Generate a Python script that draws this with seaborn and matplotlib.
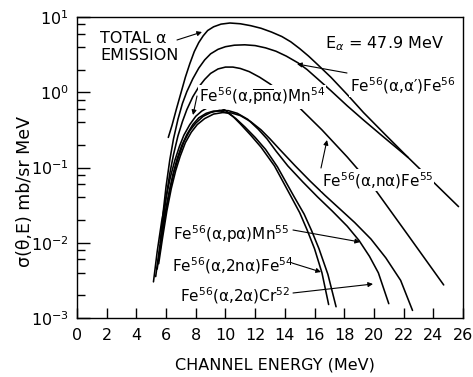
import numpy as np
import pandas as pd
import matplotlib
matplotlib.use("Agg")
import matplotlib.pyplot as plt
import seaborn as sns
from matplotlib.ticker import LogLocator, NullLocator, FixedLocator

sns.set_theme(style="ticks")
plt.rcParams["font.family"] = ["DejaVu Sans"]
plt.rcParams["mathtext.fontset"] = "dejavusans"
plt.rcParams["text.color"] = "black"
plt.rcParams["axes.labelcolor"] = "black"

# --- spectra: channel energy (MeV) and sigma(theta,E) (mb/sr MeV) ---
total_E = [6.15, 6.4, 6.7, 7.0, 7.3, 7.6, 7.9, 8.2, 8.5, 8.8, 9.2, 9.7, 10.3,
           11.0, 11.7, 12.4, 13.1, 13.8, 14.4, 15.0, 15.6, 16.2, 17.1, 18.2,
           19.3, 20.8, 22.3, 24.3, 25.7]
total_S = [0.251, 0.363, 0.603, 0.977, 1.585, 2.40, 3.47, 4.57, 5.62, 6.61, 7.41,
           8.04, 8.32, 8.13, 7.67, 7.08, 6.31, 5.50, 4.68, 3.80, 3.02, 2.34, 1.585,
           0.933, 0.537, 0.269, 0.136, 0.0562, 0.0302]

inel_E = [5.6, 5.8, 6.0, 6.25, 6.5, 6.8, 7.1, 7.4, 7.8, 8.2, 8.6, 9.0, 9.5, 10.0,
          10.6, 11.3, 12.0, 12.7, 13.4, 14.1, 14.9, 15.5, 16.2, 17.1, 18.2, 19.3,
          20.8, 22.3]
inel_S = [0.010, 0.0251, 0.0562, 0.126, 0.240, 0.437, 0.708, 1.02, 1.51, 2.09, 2.69,
          3.24, 3.72, 4.03, 4.22, 4.27, 4.17, 3.89, 3.51, 3.02, 2.45, 2.00, 1.51,
          1.05, 0.661, 0.427, 0.240, 0.136]

na_E = [5.6, 5.8, 6.0, 6.25, 6.5, 6.8, 7.1, 7.4, 7.8, 8.2, 8.6, 9.0, 9.5, 10.0,
        10.5, 11.0, 11.6, 12.3, 13.0, 13.9, 14.9, 16.5, 18.2, 20.0, 22.3, 24.7]
na_S = [0.00794, 0.0191, 0.0398, 0.0832, 0.148, 0.263, 0.407, 0.589, 0.871, 1.175,
        1.48, 1.78, 2.04, 2.16, 2.16, 2.07, 1.88, 1.585, 1.29, 0.933, 0.646, 0.316,
        0.138, 0.0537, 0.0126, 0.00275]

pna_E = [5.15, 5.4, 5.7, 6.0, 6.3, 6.6, 6.9, 7.2, 7.6, 8.0, 8.4, 8.8, 9.2, 9.6,
         10.0, 10.5, 11.0, 11.7, 12.4, 13.3, 14.4, 15.0, 15.5, 16.0, 16.5, 16.95]
pna_S = [0.00302, 0.00759, 0.0191, 0.0398, 0.0759, 0.126, 0.191, 0.269, 0.372,
         0.479, 0.562, 0.624, 0.646, 0.631, 0.575, 0.479, 0.380, 0.269, 0.186,
         0.105, 0.0417, 0.0251, 0.0148, 0.00832, 0.00398, 0.00151]

twona_E = [5.3, 5.55, 5.85, 6.15, 6.45, 6.75, 7.05, 7.4, 7.8, 8.2, 8.7, 9.2, 9.7,
           10.2, 10.7, 11.3, 12.0, 12.7, 13.5, 14.6, 15.3, 15.8, 16.3, 16.9, 17.45]
twona_S = [0.00355, 0.00832, 0.0200, 0.0417, 0.0794, 0.132, 0.195, 0.275, 0.372,
           0.457, 0.525, 0.562, 0.562, 0.525, 0.447, 0.347, 0.251, 0.174, 0.102,
           0.0417, 0.0240, 0.0145, 0.00832, 0.00380, 0.00141]

twoa_E = [5.4, 5.65, 5.95, 6.25, 6.55, 6.85, 7.2, 7.6, 8.0, 8.5, 9.0, 9.6, 10.2,
          10.8, 11.5, 12.2, 12.8, 13.4, 14.2, 15.2, 16.2, 17.2, 18.2, 19.0, 19.7,
          20.3, 21.0]
twoa_S = [0.00447, 0.0100, 0.0240, 0.0501, 0.0891, 0.141, 0.219, 0.309, 0.389,
          0.479, 0.537, 0.575, 0.569, 0.525, 0.437, 0.324, 0.240, 0.166, 0.105,
          0.0646, 0.0407, 0.0263, 0.0166, 0.0107, 0.0066, 0.00398, 0.00155]

pa_E = [5.5, 5.75, 6.05, 6.35, 6.65, 6.95, 7.3, 7.7, 8.1, 8.6, 9.2, 9.8, 10.4,
        11.0, 11.7, 12.4, 13.0, 13.7, 14.7, 15.7, 16.7, 17.7, 18.7, 19.8, 20.8,
        21.8, 22.6]
pa_S = [0.00525, 0.0112, 0.0263, 0.0525, 0.0912, 0.141, 0.214, 0.295, 0.372,
        0.447, 0.513, 0.537, 0.531, 0.490, 0.407, 0.316, 0.240, 0.170, 0.105,
        0.0661, 0.0427, 0.0282, 0.0186, 0.0112, 0.0063, 0.00316, 0.00126]

x_ticks = list(range(0, 27, 2))

curves = {
    "total": (total_E, total_S),
    "a,a'": (inel_E, inel_S),
    "a,na": (na_E, na_S),
    "a,pna": (pna_E, pna_S),
    "a,2na": (twona_E, twona_S),
    "a,2a": (twoa_E, twoa_S),
    "a,pa": (pa_E, pa_S),
}
df = pd.concat(
    [pd.DataFrame({"energy": e, "sigma": s, "reaction": name})
     for name, (e, s) in curves.items()],
    ignore_index=True,
)

W, H = 473, 377
fig = plt.figure(figsize=(W / 100, H / 100), dpi=100)
fig.patch.set_facecolor("white")
L, R, T, B = 77, 463, 17, 318
ax = fig.add_axes([L / W, 1 - B / H, (R - L) / W, (B - T) / H])
ax.set_facecolor("white")

sns.lineplot(data=df, x="energy", y="sigma", units="reaction", estimator=None,
             color="black", lw=1.15, sort=False, ax=ax, legend=False)

ax.set_yscale("log")
ax.set_xlim(0, 26)
ax.set_ylim(1e-3, 1e1)

ax.xaxis.set_major_locator(FixedLocator(x_ticks))
ax.set_xticklabels([str(t) for t in x_ticks])
ax.xaxis.set_minor_locator(NullLocator())
ax.yaxis.set_major_locator(LogLocator(base=10, numticks=10))
ax.yaxis.set_minor_locator(LogLocator(base=10, subs=[2, 4, 6, 8], numticks=10))

ax.tick_params(which="both", direction="in", top=False, right=False,
               left=True, bottom=True, colors="black", width=1.0)
ax.tick_params(axis="x", which="major", length=7, pad=7, labelsize=11.5)
ax.tick_params(axis="y", which="major", length=9, pad=6, labelsize=11.5)
ax.tick_params(axis="y", which="minor", length=5.5)

for sp in ax.spines.values():
    sp.set_visible(True)
    sp.set_color("black")
    sp.set_linewidth(1.0)

ax.set_xlabel("CHANNEL ENERGY (MeV)", fontsize=11.5, color="black")
ax.xaxis.set_label_coords(0.513, -0.13)
ax.set_ylabel("σ(θ,E) mb/sr MeV", fontsize=12.5, color="black")
ax.yaxis.set_label_coords(-0.112, 0.42)


def px(x, y):
    """Figure pixel position -> axes fraction."""
    return ((x - L) / (R - L), (B - y) / (B - T))


box = dict(facecolor="white", edgecolor="none", pad=0.5)
arrow = dict(arrowstyle="-|>", color="black", lw=0.8, mutation_scale=7,
             shrinkA=0, shrinkB=0)
label_kw = dict(transform=ax.transAxes, ha="left", va="baseline",
                color="black", zorder=5)

ax.text(*px(100, 31), "TOTAL α\nEMISSION", transform=ax.transAxes,
        ha="left", va="top", fontsize=11.5, linespacing=1.15, color="black",
        zorder=5)
ax.annotate("", xy=px(202, 32), xytext=px(177, 40), xycoords="axes fraction",
            textcoords="axes fraction", arrowprops=arrow)

ax.text(*px(325, 48), r"E$_{\alpha}$ = 47.9 MeV", fontsize=11.5, **label_kw)

ax.text(*px(350, 92), "Fe$^{56}$(α,α′)Fe$^{56}$", fontsize=11, bbox=box,
        **label_kw)
ax.annotate("", xy=px(297, 64), xytext=px(347, 73), xycoords="axes fraction",
            textcoords="axes fraction", arrowprops=arrow)

ax.text(*px(199, 103), r"Fe$^{56}$(α,$\overline{\mathrm{pn}}$α)Mn$^{54}$",
        fontsize=11, bbox=box, **label_kw)
ax.annotate("", xy=px(193, 115), xytext=px(197, 96), xycoords="axes fraction",
            textcoords="axes fraction", arrowprops=arrow)

ax.text(*px(322, 186), "Fe$^{56}$(α,nα)Fe$^{55}$", fontsize=11, bbox=box,
        **label_kw)
ax.annotate("", xy=px(327, 140), xytext=px(321, 168), xycoords="axes fraction",
            textcoords="axes fraction", arrowprops=arrow)

ax.text(*px(173, 240), "Fe$^{56}$(α,pα)Mn$^{55}$", fontsize=11, **label_kw)
ax.annotate("", xy=px(360, 242), xytext=px(293, 230), xycoords="axes fraction",
            textcoords="axes fraction", arrowprops=arrow)

ax.text(*px(172, 272), "Fe$^{56}$(α,2nα)Fe$^{54}$", fontsize=11, **label_kw)
ax.annotate("", xy=px(321, 272), xytext=px(292, 263), xycoords="axes fraction",
            textcoords="axes fraction", arrowprops=arrow)

ax.text(*px(180, 302), "Fe$^{56}$(α,2α)Cr$^{52}$", fontsize=11, **label_kw)
ax.annotate("", xy=px(373, 284), xytext=px(293, 293), xycoords="axes fraction",
            textcoords="axes fraction", arrowprops=arrow)

fig.savefig("out.png", dpi=100, facecolor="white")
